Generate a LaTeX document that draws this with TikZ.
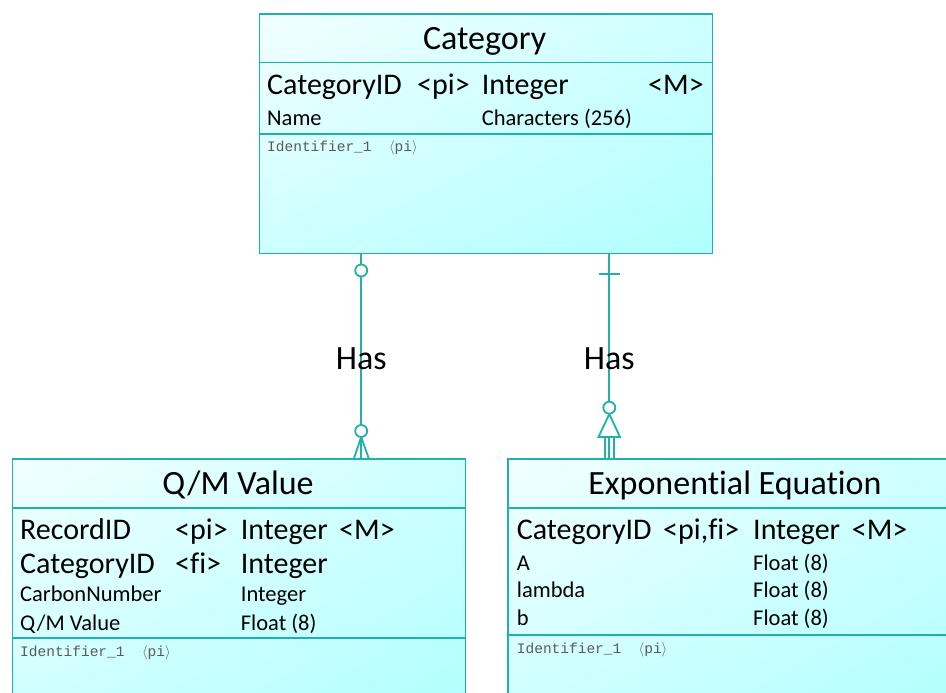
\documentclass[tikz,border=0pt]{standalone}
\usepackage{fontspec}
\usetikzlibrary{shadings}
\setmainfont{Carlito}[Ligatures=NoCommon]
\newfontfamily\idfont{Liberation Mono}

\definecolor{erteal}{RGB}{32,178,170}
\definecolor{erlight}{RGB}{242,255,255}
\definecolor{erdeep}{RGB}{176,255,255}
\definecolor{ergray}{RGB}{90,90,90}

\tikzset{
  erline/.style={draw=erteal, line width=1.8pt},
  entity/.style={erline, rectangle, anchor=north west, inner sep=0pt,
    minimum width=453pt, upper left=erlight, lower right=erdeep,
    upper right=erlight!45!erdeep, lower left=erlight!45!erdeep},
  titletxt/.style={anchor=base, inner sep=0pt, font=\fontsize{34}{40}\selectfont},
  keytxt/.style={anchor=base west, inner sep=0pt, font=\fontsize{30}{36}\selectfont},
  attrtxt/.style={anchor=base west, inner sep=0pt, font=\fontsize{22.5}{27}\selectfont},
  idtxt/.style={anchor=base west, inner sep=0pt, text=ergray, font=\idfont\fontsize{14.5}{17}\selectfont},
  haslabel/.style={inner sep=0pt, font=\fontsize{34}{40}\selectfont},
  ercircle/.style={erline, circle, fill=white, inner sep=0pt, minimum size=12pt}
}

\begin{document}
\begin{tikzpicture}[x=1pt, y=-1pt]
    \useasboundingbox (0,0) rectangle (946,693);
    \clip (0,0) rectangle (946,693);

    % entities
    \node[entity, minimum height=239pt] (cat) at (258.5,13.5) {};
    \draw[erline] ([yshift=-49pt]cat.north west) -- ([yshift=-49pt]cat.north east);
    \draw[erline] ([yshift=-120.5pt]cat.north west) -- ([yshift=-120.5pt]cat.north east);
    \node[titletxt] (cat-t) at (484.7,50) {Category};
    \node[keytxt] (cat-a1) at (267,95) {CategoryID};
    \node[keytxt] (cat-k1) at (417,95) {<pi>};
    \node[keytxt] (cat-d1) at (481.7,95) {Integer};
    \node[keytxt] (cat-m1) at (648,95) {<M>};
    \node[attrtxt] (cat-a2) at (267,125) {Name};
    \node[attrtxt] (cat-d2) at (481.7,125) {Characters (256)};
    \node[idtxt] (cat-id) at (267,151.5) {Identifier\_1\ \ $\langle$pi$\rangle$};

    \node[entity, minimum height=260pt] (qm) at (11.5,458.3) {};
    \draw[erline] ([yshift=-49.4pt]qm.north west) -- ([yshift=-49.4pt]qm.north east);
    \draw[erline] ([yshift=-179.7pt]qm.north west) -- ([yshift=-179.7pt]qm.north east);
    \node[titletxt] (qm-t) at (238,494.3) {Q/M Value};
    \node[keytxt] (qm-a1) at (20,539) {RecordID};
    \node[keytxt] (qm-k1) at (175,539) {<pi>};
    \node[keytxt] (qm-d1) at (240.7,539) {Integer};
    \node[keytxt] (qm-m1) at (339,539) {<M>};
    \node[keytxt] (qm-a2) at (20,573) {CategoryID};
    \node[keytxt] (qm-k2) at (175,573) {<f\kern0pt i>};
    \node[keytxt] (qm-d2) at (240.7,573) {Integer};
    \node[attrtxt] (qm-a3) at (20,601.7) {CarbonNumber};
    \node[attrtxt] (qm-d3) at (240.7,601.7) {Integer};
    \node[attrtxt] (qm-a4) at (20,630) {Q/M Value};
    \node[attrtxt] (qm-d4) at (240.7,630) {Float (8)};
    \node[idtxt] (qm-id) at (20,656.5) {Identifier\_1\ \ $\langle$pi$\rangle$};

    \node[entity, minimum height=260pt] (exp) at (506.7,458.3) {};
    \draw[erline] ([yshift=-49.4pt]exp.north west) -- ([yshift=-49.4pt]exp.north east);
    \draw[erline] ([yshift=-176.7pt]exp.north west) -- ([yshift=-176.7pt]exp.north east);
    \node[titletxt] (exp-t) at (735,494.3) {Exponential Equation};
    \node[keytxt] (exp-a1) at (516.7,539) {CategoryID};
    \node[keytxt] (exp-k1) at (663,539) {<pi,f\kern0pt i>};
    \node[keytxt] (exp-d1) at (753,539) {Integer};
    \node[keytxt] (exp-m1) at (851.7,539) {<M>};
    \node[attrtxt] (exp-a2) at (516.7,570) {A};
    \node[attrtxt] (exp-d2) at (753,570) {Float (8)};
    \node[attrtxt] (exp-a3) at (516.7,597.7) {lambda};
    \node[attrtxt] (exp-d3) at (753,597.7) {Float (8)};
    \node[attrtxt] (exp-a4) at (516.7,625.7) {b};
    \node[attrtxt] (exp-d4) at (753,625.7) {Float (8)};
    \node[idtxt] (exp-id) at (516.7,653) {Identifier\_1\ \ $\langle$pi$\rangle$};

    % relationships
    \coordinate (lx) at (361.2,0);
    \coordinate (rx) at (609.3,0);
    \draw[erline] (cat.south -| lx) -- node[haslabel, pos=0.51] (has-l) {Has} (qm.north -| lx);
    \draw[erline] (361.2,437) -- (354,458.3) (361.2,437) -- (368.7,458.3);
    \node[ercircle] (l-c1) at (361.2,270.5) {};
    \node[ercircle] (l-c2) at (361.2,431) {};

    \draw[erline] (cat.south -| rx) -- node[haslabel, pos=0.51] (has-r) {Has} (exp.north -| rx);
    \draw[erline] (599,274) -- (619.5,274);
    \draw[erline, fill=white] (609.3,414) -- (598.5,437) -- (620,437) -- cycle;
    \foreach \lxx in {604.8,609.3,613.8}
      \draw[erline] (\lxx,437) -- (\lxx,458.3);
    \node[ercircle] (r-c1) at (609.3,407.7) {};
\end{tikzpicture}
\end{document}
